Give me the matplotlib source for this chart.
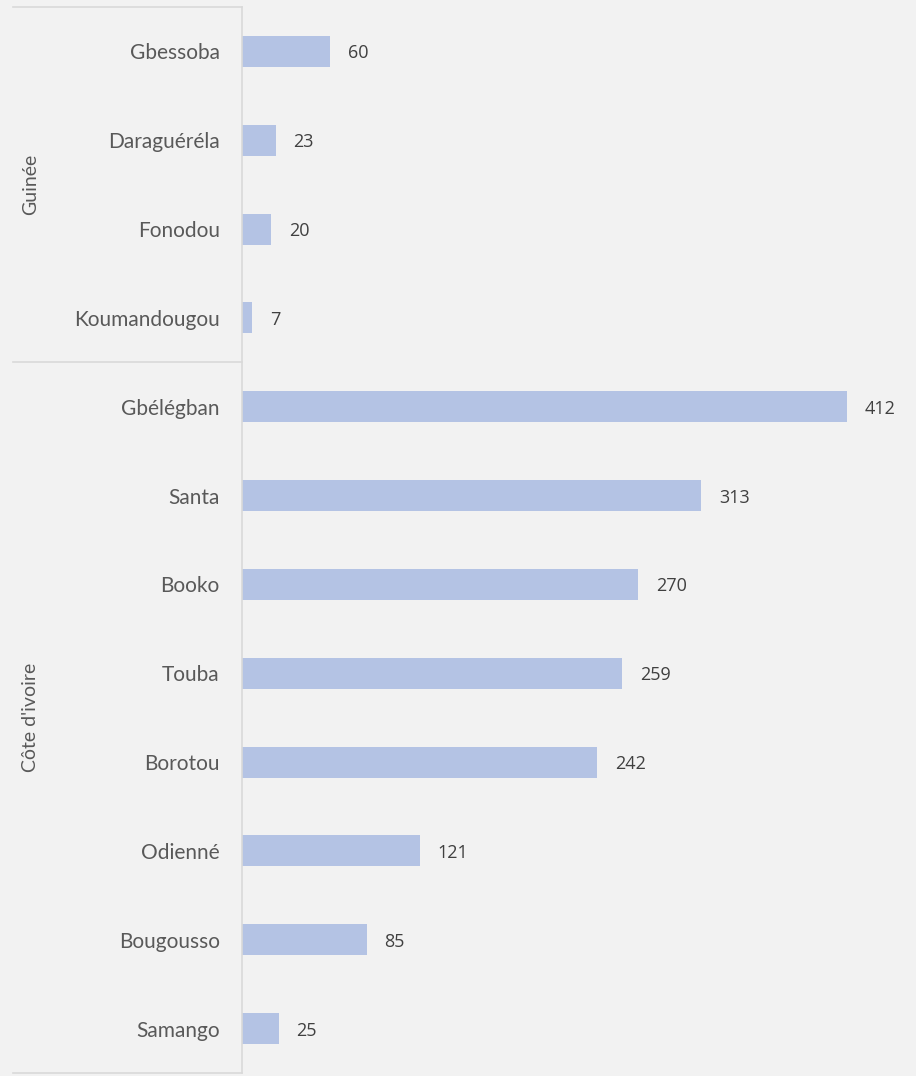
import matplotlib.pyplot as plt

# data, top to bottom
groups = ["Guinée", "Côte d'ivoire"]
group_sizes = [4, 8]
villages = ["Gbessoba", "Daraguéréla", "Fonodou", "Koumandougou",
            "Gbélégban", "Santa", "Booko", "Touba", "Borotou",
            "Odienné", "Bougousso", "Samango"]
values = [60, 23, 20, 7, 412, 313, 270, 259, 242, 121, 85, 25]

W, H = 916, 1076
bg = "#f2f2f2"
bar_color = "#b4c3e4"
line_color = "#d9d9d9"

fig = plt.figure(figsize=(W / 100, H / 100), dpi=100, facecolor=bg)
ax_left, ax_top, ax_bottom = 242, 7, 1073
ax = fig.add_axes([ax_left / W, (H - ax_bottom) / H,
                   (W - ax_left) / W, (ax_bottom - ax_top) / H])
ax.set_facecolor(bg)

n = len(villages)
ypos = list(range(n))
ax.barh(ypos, values, height=0.35, color=bar_color)
ax.set_ylim(n - 0.5, -0.5)
ax.set_xlim(0, (W - ax_left) / 1.468)

for y, v in zip(ypos, values):
    ax.text(v + 12, y, str(v), va="center_baseline", ha="left", fontsize=13,
            color="#404040", family="Open Sans")

ax.set_yticks(ypos)
ax.set_yticklabels(villages, fontsize=15, color="#595959", family="Lato")
for lbl in ax.get_yticklabels():
    lbl.set_verticalalignment("center_baseline")
ax.tick_params(axis="y", length=0, pad=16)
ax.set_xticks([])
for s in ["top", "right", "bottom"]:
    ax.spines[s].set_visible(False)
ax.spines["left"].set_color(line_color)
ax.spines["left"].set_linewidth(1.2)

# group separators and labels on the left
line_x0 = 13 / W
px_per_cat = (ax_bottom - ax_top) / n
start = 0
bounds = [0]
for g in group_sizes:
    start += g
    bounds.append(start)
for b in bounds:
    yfig = (H - (ax_top + b * px_per_cat)) / H
    fig.add_artist(plt.Line2D([line_x0, ax_left / W], [yfig, yfig],
                              color=line_color, lw=1.2))
for g, b0, b1 in zip(groups, bounds[:-1], bounds[1:]):
    ymid = (H - (ax_top + (b0 + b1) / 2 * px_per_cat)) / H
    fig.text(31 / W, ymid, g, rotation=90, va="center", ha="center",
             fontsize=14, color="#595959", family="Lato")

fig.savefig("out.png", dpi=100, facecolor=bg)
